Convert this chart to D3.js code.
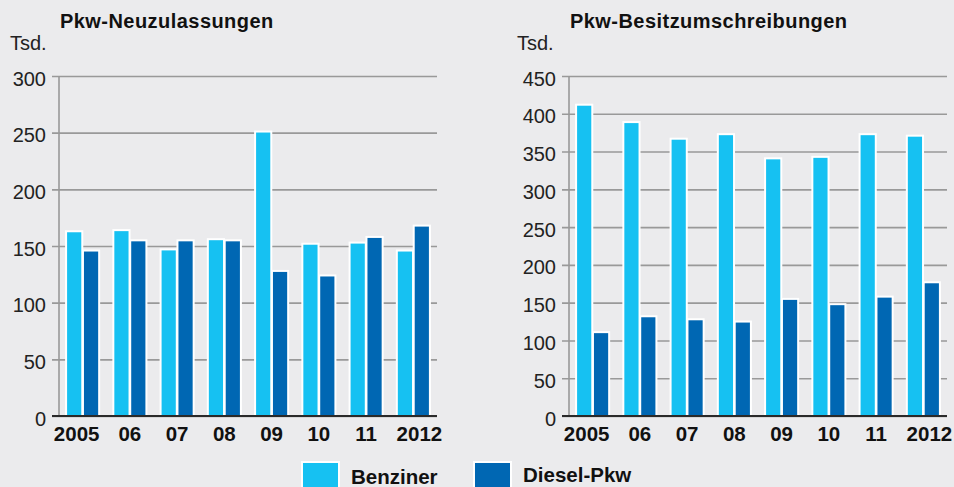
<!DOCTYPE html>
<html>
<head>
<meta charset="utf-8">
<script src="https://cdn.jsdelivr.net/npm/d3@7"></script>
<style>
  body { margin: 0; background: #ebebed; }
  svg { display: block; font-family: Helvetica, Arial, "Liberation Sans", sans-serif; }
</style>
</head>
<body>
<svg id="chart" width="954" height="487"></svg>
<script>
// data
var years = ["2005", "06", "07", "08", "09", "10", "11", "2012"];
var seriesNames = ["Benziner", "Diesel-Pkw"];
var neuBenzin = [163, 164, 147, 156, 251, 152, 153, 146];
var neuDiesel = [146, 155, 155, 155, 128, 124, 158, 168];
var besBenzin = [412, 389, 367, 373, 341, 343, 373, 371];
var besDiesel = [111, 132, 128, 125, 155, 148, 158, 177];
var neuTicks = [0, 50, 100, 150, 200, 250, 300];
var besTicks = [0, 50, 100, 150, 200, 250, 300, 350, 400, 450];

var colors = { "Benziner": "#16c1f2", "Diesel-Pkw": "#0067b3" };
var FONT = "Helvetica, Arial, 'Liberation Sans', sans-serif";

var svg = d3.select("#chart");
svg.append("rect").attr("width", 954).attr("height", 487).attr("fill", "#ebebed");

function drawPanel(opt) {
  var x0 = opt.left, x1 = opt.right, yTop = 76, yBot = 416;
  var g = svg.append("g");

  var x = d3.scaleBand().domain(years).range([x0, x1]).paddingInner(0.3).paddingOuter(0.15);
  var xs = d3.scaleBand().domain(seriesNames).range([0, x.bandwidth()]).paddingInner(0.04);
  var y = d3.scaleLinear().domain([0, d3.max(opt.ticks)]).range([yBot, yTop]);

  // title + unit
  g.append("text").attr("x", opt.titleX).attr("y", 28)
    .style("font-size", "20px").style("font-weight", "bold").style("letter-spacing", "0.45px")
    .attr("fill", "#111").text(opt.title);
  g.append("text").attr("x", opt.unitX).attr("y", 50)
    .style("font-size", "20px").attr("fill", "#222").text("Tsd.");

  // y axis with gridlines
  var yAxis = g.append("g").attr("transform", "translate(" + x0 + ",0)")
    .call(d3.axisLeft(y).tickValues(opt.ticks).tickSizeInner(-(x1 - x0)).tickSizeOuter(0).tickPadding(13));
  yAxis.select(".domain").remove();
  yAxis.selectAll(".tick line").attr("x1", -7).attr("stroke", "#999").attr("stroke-width", 1.6);
  yAxis.selectAll(".tick text").attr("dy", "0.45em")
    .style("font-size", "20px").style("font-family", FONT)
    .attr("fill", "#222");

  g.append("line").attr("x1", x0).attr("x2", x0).attr("y1", yTop).attr("y2", yBot)
    .attr("stroke", "#999").attr("stroke-width", 1.6);

  // bars
  var rows = years.map(function(yr, i) {
    return { year: yr, vals: [{ s: seriesNames[0], v: opt.benzin[i] }, { s: seriesNames[1], v: opt.diesel[i] }] };
  });
  var grp = g.selectAll(".grp").data(rows).enter().append("g")
    .attr("transform", function(d) { return "translate(" + x(d.year) + ",0)"; });
  grp.selectAll("rect").data(function(d) { return d.vals; }).enter().append("rect")
    .attr("x", function(d) { return xs(d.s); })
    .attr("width", xs.bandwidth())
    .attr("y", function(d) { return y(d.v); })
    .attr("height", function(d) { return y(0) - y(d.v); })
    .attr("fill", function(d) { return colors[d.s]; })
    .attr("stroke", "#fff").attr("stroke-width", 2);

  // zero line
  g.append("line").attr("x1", x0 - 7).attr("x2", x1).attr("y1", yBot).attr("y2", yBot)
    .attr("stroke", "#2a2a2a").attr("stroke-width", 2);

  // x labels
  var xAxis = g.append("g").attr("transform", "translate(0," + yBot + ")")
    .call(d3.axisBottom(x).tickSize(0).tickPadding(10));
  xAxis.select(".domain").remove();
  xAxis.selectAll(".tick text")
    .attr("dx", function(d, i) { return i === 0 ? -6 : (i === years.length - 1 ? 6 : 0); })
    .style("font-size", "20.5px").style("font-weight", "bold")
    .style("font-family", FONT)
    .attr("fill", "#111");
}

drawPanel({ left: 59, right: 437, title: "Pkw-Neuzulassungen", titleX: 60, unitX: 10,
  ticks: neuTicks, benzin: neuBenzin, diesel: neuDiesel });
drawPanel({ left: 569, right: 947, title: "Pkw-Besitzumschreibungen", titleX: 570, unitX: 517,
  ticks: besTicks, benzin: besBenzin, diesel: besDiesel });

// legend
var legendX = [302, 474];
var legendTextX = [351, 523];
var legendBase = [484, 482];
var leg = svg.append("g");
seriesNames.forEach(function(s, i) {
  leg.append("rect").attr("x", legendX[i]).attr("y", 462).attr("width", 37).attr("height", 30)
    .attr("fill", colors[s]).attr("stroke", "#fff").attr("stroke-width", 2);
  leg.append("text").attr("x", legendTextX[i]).attr("y", legendBase[i])
    .style("font-size", "20.5px").style("font-weight", "bold").attr("fill", "#111").text(s);
});
</script>
</body>
</html>
